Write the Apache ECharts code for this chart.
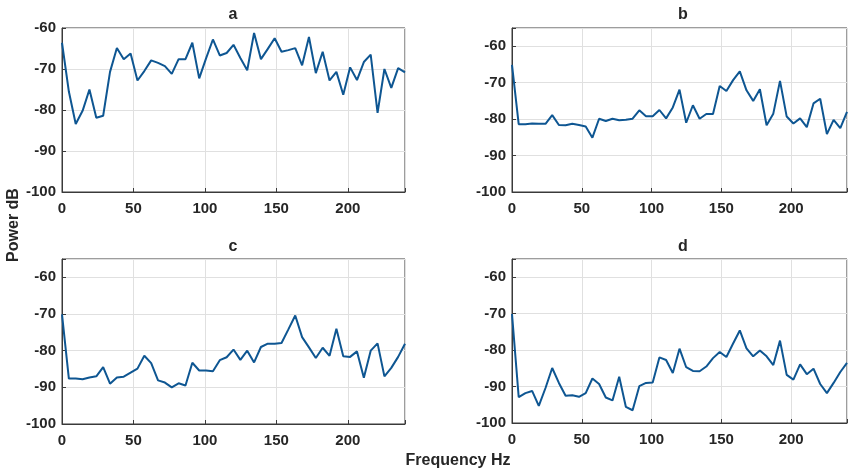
<!DOCTYPE html>
<html>
<head>
<meta charset="utf-8">
<script src="https://cdn.jsdelivr.net/npm/echarts@6/dist/echarts.min.js"></script>
<style>html,body{margin:0;padding:0;background:#fff}#c{width:850px;height:468px}</style>
</head>
<body>
<div id="c"></div>
<script>
const freqs = [0,4.8,9.6,14.4,19.2,24,28.8,33.6,38.4,43.2,48,52.8,57.6,62.4,67.2,72,76.8,81.6,86.4,91.2,96,100.8,105.6,110.4,115.2,120,124.8,129.6,134.4,139.2,144,148.8,153.6,158.4,163.2,168,172.8,177.6,182.4,187.2,192,196.8,201.6,206.4,211.2,216,220.8,225.6,230.4,235.2,240];
const powerA = [-63.6,-75.5,-83.4,-80.2,-75.0,-81.9,-81.4,-70.7,-64.9,-67.6,-66.2,-72.8,-70.5,-67.9,-68.5,-69.3,-71.2,-67.6,-67.6,-63.6,-72.3,-67.4,-62.8,-66.7,-66.1,-64.1,-67.3,-70.3,-61.2,-67.6,-65.1,-62.5,-65.8,-65.4,-64.9,-69.1,-62.2,-71.0,-65.8,-72.8,-70.7,-76.3,-69.6,-72.7,-68.3,-66.5,-80.7,-70.0,-74.6,-69.8,-70.8];
const powerB = [-65.1,-81.4,-81.4,-81.2,-81.3,-81.3,-78.9,-81.6,-81.7,-81.3,-81.6,-82.0,-85.1,-79.9,-80.5,-79.9,-80.3,-80.2,-79.9,-77.6,-79.2,-79.2,-77.5,-79.8,-76.8,-71.9,-81.0,-76.2,-79.9,-78.6,-78.6,-70.9,-72.3,-69.3,-66.9,-72.1,-75.0,-71.8,-81.7,-78.5,-69.5,-79.3,-81.2,-79.8,-82.2,-75.7,-74.4,-84.1,-80.2,-82.5,-78.0];
const powerC = [-70.1,-87.6,-87.6,-87.8,-87.3,-87.0,-84.5,-89.0,-87.3,-87.1,-86.0,-84.9,-81.4,-83.4,-88.1,-88.7,-90.0,-88.9,-89.5,-83.3,-85.4,-85.4,-85.6,-82.6,-81.8,-79.7,-82.5,-80.0,-83.2,-79.0,-78.1,-78.1,-77.9,-74.2,-70.4,-76.3,-79.1,-82.0,-79.2,-81.4,-74.0,-81.5,-81.7,-80.2,-87.4,-80.0,-78.0,-87.0,-84.7,-81.7,-78.1];
const powerD = [-70.1,-92.9,-91.8,-91.2,-95.3,-90.4,-84.9,-89.0,-92.5,-92.4,-92.8,-91.8,-87.8,-89.3,-93.0,-93.8,-87.3,-95.6,-96.5,-89.9,-89.0,-88.9,-82.0,-82.7,-86.3,-79.6,-84.7,-85.7,-85.8,-84.5,-82.2,-80.5,-81.9,-78.2,-74.6,-79.5,-81.7,-80.1,-81.7,-84.1,-77.4,-86.8,-88.1,-83.9,-86.6,-85.1,-89.3,-91.8,-89.0,-86.0,-83.5];
const panelTitles = ['a','b','c','d'];
const yMaxes = [-60,-55,-55,-55];
const xLabel = 'Frequency Hz';
const yLabel = 'Power dB';

const FONT = "'Liberation Sans', Arial, Helvetica, sans-serif";
const TXT = '#262626';
const LINE = '#0e5692';
const FRAME = '#3a3a3a';
const GRIDC = '#e0e0e0';

const grids = [
  {left: 62, top: 28, width: 343, height: 164},
  {left: 512, top: 28, width: 343, height: 164},
  {left: 62, top: 259, width: 343, height: 165},
  {left: 512, top: 259, width: 343, height: 164}
].map(g => Object.assign(g, {show: true, borderColor: FRAME, borderWidth: 1, backgroundColor: '#fff'}));

const titlePos = [[233,15],[683,15],[233,247],[683,247]];
const all = [powerA, powerB, powerC, powerD];

const xAxes = [], yAxes = [], series = [];
for (let i = 0; i < 4; i++) {
  xAxes.push({
    type: 'value', gridIndex: i, min: 0, max: 240, interval: 50,
    axisLine: {show: true, lineStyle: {color: FRAME, width: 1}},
    axisTick: {show: true, inside: true, length: 4, lineStyle: {color: FRAME}},
    splitLine: {show: true, lineStyle: {color: GRIDC, width: 1}},
    axisLabel: {color: TXT, fontFamily: FONT, fontWeight: 'bold', fontSize: 15, margin: 9,
      formatter: v => (v % 50 === 0 ? String(v) : '')}
  });
  yAxes.push({
    type: 'value', gridIndex: i, min: -100, max: yMaxes[i], interval: 10,
    axisLine: {show: true, lineStyle: {color: FRAME, width: 1}},
    axisTick: {show: true, inside: true, length: 4, lineStyle: {color: FRAME}},
    splitLine: {show: true, lineStyle: {color: GRIDC, width: 1}},
    axisLabel: {color: TXT, fontFamily: FONT, fontWeight: 'bold', fontSize: 15, margin: 6,
      formatter: v => (v % 10 === 0 ? String(v) : '')}
  });
  series.push({
    type: 'line', xAxisIndex: i, yAxisIndex: i,
    data: freqs.map((f, k) => [f, all[i][k]]),
    showSymbol: false, symbol: 'none', clip: true,
    lineStyle: {color: LINE, width: 2}, itemStyle: {color: LINE}
  });
}

const graphics = panelTitles.map((t, i) => ({
  type: 'text', x: titlePos[i][0], y: titlePos[i][1],
  style: {text: t, fill: TXT, font: "bold 16px " + FONT, textAlign: 'center', textVerticalAlign: 'middle'}
}));
graphics.push({type: 'text', x: 458, y: 461,
  style: {text: xLabel, fill: TXT, font: "bold 16px " + FONT, textAlign: 'center', textVerticalAlign: 'middle'}});
graphics.push({type: 'text', x: 14, y: 225, rotation: Math.PI / 2,
  style: {text: yLabel, fill: TXT, font: "bold 16px " + FONT, textAlign: 'center', textVerticalAlign: 'middle'}});

const chart = echarts.init(document.getElementById('c'), null, {renderer: 'canvas'});
chart.setOption({
  animation: false,
  backgroundColor: '#fff',
  grid: grids,
  xAxis: xAxes,
  yAxis: yAxes,
  series: series,
  graphic: graphics
});
</script>
</body>
</html>
